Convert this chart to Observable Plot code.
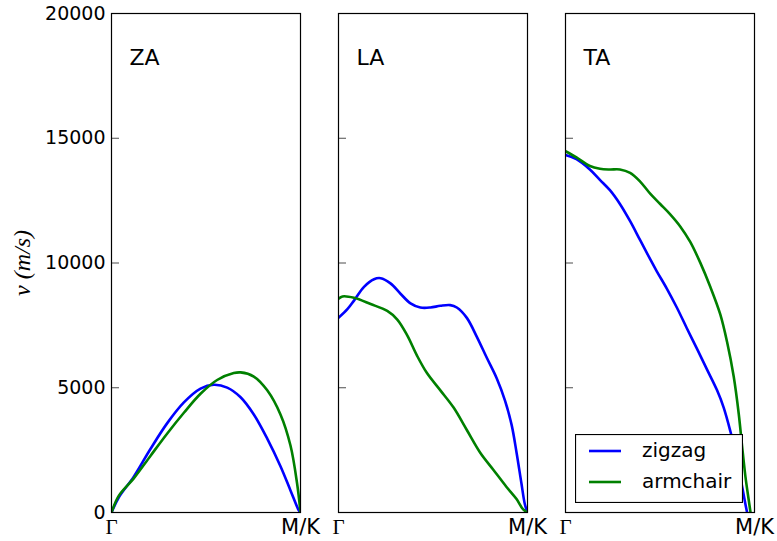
<!DOCTYPE html>
<html>
<head>
<meta charset="utf-8">
<script src="https://cdn.jsdelivr.net/npm/d3@7"></script>
<script src="https://cdn.jsdelivr.net/npm/@observablehq/plot@0.6"></script>
<style>
  body { margin: 0; background: #fff; }
  #wrap { position: relative; width: 777px; height: 541px; }
  #legend { position: absolute; left: 575px; top: 434px; }
  g[aria-label="y-axis label"] text { font-family: "Liberation Serif", serif; font-style: italic; font-size: 24px; }
</style>
</head>
<body>
<div id="wrap"></div>
<script>
// Panels (branches)
const panels = ["ZA", "LA", "TA"];
const seriesNames = ["zigzag", "armchair"];
const seriesColors = ["#0000ff", "#008000"];
const yTicks = [0, 5000, 10000, 15000, 20000];
const xTickLabels = ["\u0393", "M/K"];

// [fraction along Γ→M/K, velocity m/s]
const zaZigzag = [[0,0],[0.039,609],[0.118,1438],[0.206,2545],[0.295,3582],[0.383,4412],[0.471,4965],[0.541,5118],[0.612,5007],[0.683,4620],[0.753,3928],[0.824,2960],[0.894,1853],[0.947,885],[0.991,83],[1,0]];
const zaArmchair = [[0,0],[0.039,678],[0.118,1369],[0.206,2268],[0.295,3167],[0.383,3997],[0.471,4758],[0.559,5311],[0.647,5588],[0.683,5615],[0.753,5450],[0.824,4896],[0.894,3928],[0.947,2683],[0.982,1162],[1,0]];
const laZigzag = [[0,7801],[0.047,8147],[0.082,8492],[0.135,9046],[0.188,9350],[0.223,9391],[0.275,9184],[0.328,8769],[0.381,8382],[0.433,8216],[0.486,8216],[0.539,8285],[0.591,8313],[0.626,8216],[0.679,7801],[0.732,7040],[0.784,6210],[0.837,5380],[0.881,4481],[0.916,3513],[0.942,2407],[0.968,1162],[0.986,332],[1,0]];
const laArmchair = [[0,8562],[0.021,8658],[0.082,8603],[0.170,8354],[0.258,8077],[0.311,7732],[0.363,7109],[0.416,6279],[0.468,5588],[0.539,4896],[0.609,4205],[0.679,3306],[0.749,2407],[0.819,1715],[0.889,1023],[0.942,539],[0.977,124],[1,0]];
const taZigzag = [[0,14329],[0.058,14163],[0.129,13748],[0.182,13333],[0.235,12918],[0.288,12365],[0.342,11674],[0.395,10913],[0.448,10152],[0.483,9668],[0.536,8976],[0.589,8216],[0.642,7386],[0.696,6556],[0.749,5726],[0.802,4896],[0.837,4205],[0.873,3236],[0.908,2130],[0.935,1023],[0.952,332],[0.961,0]];
const taArmchair = [[0,14481],[0.058,14232],[0.129,13886],[0.182,13776],[0.235,13748],[0.288,13748],[0.342,13610],[0.395,13264],[0.448,12780],[0.501,12365],[0.554,11950],[0.607,11466],[0.660,10844],[0.713,10014],[0.766,9046],[0.819,7939],[0.855,6832],[0.890,5449],[0.917,3928],[0.934,2683],[0.952,1438],[0.970,470],[0.979,0]];

const curves = {
  ZA: [zaZigzag, zaArmchair],
  LA: [laZigzag, laArmchair],
  TA: [taZigzag, taArmchair]
};

const rows = [];
for (const p of panels) {
  curves[p].forEach((arr, si) => {
    for (const [x, v] of arr) rows.push({panel: p, series: seriesNames[si], x, v});
  });
}
const panelRows = panels.map(p => ({panel: p}));

const lineMarks = seriesNames.map((s, si) =>
  Plot.line(rows.filter(d => d.series === s), {
    fx: "panel", x: "x", y: "v", z: "panel",
    stroke: seriesColors[si], strokeWidth: 2.6, curve: "catmull-rom", clip: true
  })
);

const chart = Plot.plot({
  width: 777,
  height: 541,
  marginLeft: 111,
  marginRight: 23,
  marginTop: 13,
  marginBottom: 29,
  style: {fontFamily: "DejaVu Sans", fontSize: "19px", color: "black", background: "white"},
  fx: {domain: panels, padding: 38 / 227, axis: null, label: null},
  x: {domain: [0, 1], axis: null},
  y: {domain: [0, 20000], axis: null},
  marks: [
    ...lineMarks,
    Plot.frame({stroke: "black", strokeWidth: 1.2}),
    Plot.axisY({
      ticks: yTicks, tickFormat: d => String(d), tickSize: 0, tickPadding: 6, fontSize: 19,
      label: "v (m/s)", labelAnchor: "center", labelOffset: 99, labelArrow: "none"
    }),
    Plot.axisY({
      ticks: yTicks.slice(1, -1), tickSize: -8, text: null, label: null,
      facetAnchor: null, strokeOpacity: 0.7
    }),
    Plot.axisX({
      ticks: [0], tickFormat: () => xTickLabels[0], tickSize: 0, tickPadding: 7,
      fontFamily: "Liberation Serif", fontSize: 21, label: null
    }),
    Plot.axisX({
      ticks: [1], tickFormat: () => xTickLabels[1], tickSize: 0, tickPadding: 7,
      fontSize: 21, label: null
    }),
    Plot.text(panelRows, {
      fx: "panel", text: "panel", frameAnchor: "top-left",
      textAnchor: "start", lineAnchor: "middle", dx: 18, dy: 44, fontSize: 22
    })
  ]
});

const wrap = document.getElementById("wrap");
wrap.appendChild(chart);

// Legend (line swatches) placed inside the TA panel
const ns = "http://www.w3.org/2000/svg";
const leg = document.createElementNS(ns, "svg");
leg.setAttribute("id", "legend");
leg.setAttribute("width", 168);
leg.setAttribute("height", 69);
leg.innerHTML =
  `<rect x="0.5" y="0.5" width="167" height="68" fill="white" stroke="black" stroke-width="1.2"></rect>` +
  seriesNames.map((s, i) => {
    const y = 17 + i * 31;
    return `<line x1="14" x2="46" y1="${y}" y2="${y}" stroke="${seriesColors[i]}" stroke-width="2.6"></line>` +
      `<text x="67" y="${y}" dy="0.32em" font-family="DejaVu Sans" font-size="20" fill="black">${s}</text>`;
  }).join("");
wrap.appendChild(leg);
</script>
</body>
</html>
